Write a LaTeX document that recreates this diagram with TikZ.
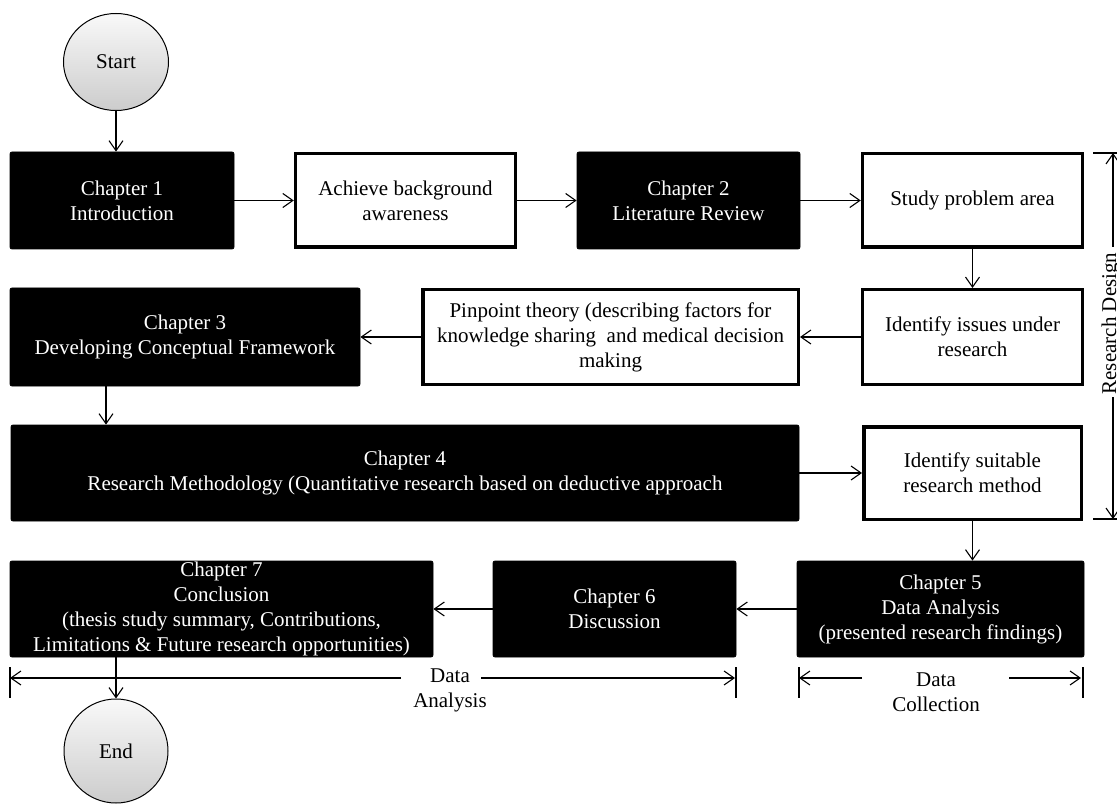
\documentclass[tikz,border=0pt]{standalone}
\usepackage{fontspec}
\setmainfont{Liberation Serif}
\usetikzlibrary{arrows.meta,shapes.geometric}
\begin{document}
\begin{tikzpicture}[x=1pt,y=-1pt,
  every node/.style={font=\fontsize{21}{25}\selectfont, align=center, inner sep=0pt},
  chapbox/.style={fill=black, draw=black, rounded corners=2pt, text=white, line width=0.8pt},
  taskbox/.style={fill=white, draw=black, line width=3.5pt},
  flow/.style={line width=1.1pt, -{Straight Barb[length=10pt,width=14pt,line width=1.1pt]}},
  span/.style={line width=1.1pt},
  startend/.style={ellipse, draw=black, line width=1pt, top color=gray!5, bottom color=gray!40, text=black}
]
\useasboundingbox (0,0) rectangle (1117,805);

% terminals
\node[startend, minimum width=105pt, minimum height=97pt] (start) at (116,62) {Start};
\node[startend, minimum width=104pt, minimum height=104pt] (end) at (116,751) {End};

% row 1
\node[chapbox, minimum width=224pt, minimum height=97pt] (c1) at (122,200.5) {Chapter 1\\Introduction};
\node[taskbox, minimum width=220pt, minimum height=93.5pt] (bg) at (405.5,200.5) {Achieve background\\awareness};
\node[chapbox, minimum width=223pt, minimum height=97pt] (c2) at (688.5,200.5) {Chapter 2\\Literature Review};
\node[taskbox, minimum width=220pt, minimum height=93.5pt] (prob) at (972.5,200.5) {Study problem area};

% row 2
\node[chapbox, minimum width=350pt, minimum height=98pt] (c3) at (185,337) {Chapter 3\\Developing Conceptual Framework};
\node[taskbox, minimum width=375.5pt, minimum height=94.5pt] (theory) at (610.5,337) {Pinpoint theory (describing factors for\\knowledge sharing\ \ and medical decision\\making};
\node[taskbox, minimum width=220pt, minimum height=94.5pt] (issues) at (972.5,337) {Identify issues under\\research};

% row 3
\node[chapbox, minimum width=788pt, minimum height=96pt] (c4) at (405,473) {Chapter 4\\Research Methodology (Quantitative research based on deductive approach};
\node[taskbox, minimum width=217.5pt, minimum height=92.5pt] (method) at (972.5,473) {Identify suitable\\research method};

% row 4
\node[chapbox, minimum width=423pt, minimum height=96pt] (c7) at (221.5,609) {Chapter 7\\Conclusion\\(thesis study summary, Contributions,\\Limitations \& Future research opportunities)};
\node[chapbox, minimum width=243pt, minimum height=96pt] (c6) at (614.5,609) {Chapter 6\\Discussion};
\node[chapbox, minimum width=287pt, minimum height=96pt] (c5) at (940.5,609) {Chapter 5\\Data Analysis\\(presented research findings)};

% flow
\draw[flow] (start) -- (start |- c1.north);
\draw[flow] (c1) -- (bg);
\draw[flow] (bg) -- (c2);
\draw[flow] (c2) -- (prob);
\draw[flow] (prob) -- (issues);
\draw[flow] (issues) -- (theory);
\draw[flow] (theory) -- (c3);
\draw[flow] ([xshift=-79pt]c3.south) coordinate (d3) -- (d3 |- c4.north);
\draw[flow] (c4) -- (method);
\draw[flow] (method.south) -- (method.south |- c5.north);
\draw[flow] (c5) -- (c6);
\draw[flow] (c6) -- (c7);
\draw[flow] (c7.south -| end) -- (end);

% research design span
\node[rotate=90, anchor=base] (rd) at (1116,323.5) {Research Design};
\coordinate (rdTop) at (1113,153);
\coordinate (rdBot) at (1113,519);
\coordinate (rdA) at (1113,247);
\coordinate (rdB) at (1113,397);
\draw[span] (1093,153) -- (1117,153);
\draw[span] (1093,519) -- (1117,519);
\draw[flow] (rdA) -- (rdTop);
\draw[flow] (rdB) -- (rdBot);

% data analysis span
\node (da) at (450,690.5) {Data\\Analysis};
\coordinate (daL) at (10,678);
\coordinate (daR) at (735,678);
\draw[span] (10,667) -- (10,698);
\draw[span] (736,667) -- (736,698);
\draw[flow] (401,678) -- (daL);
\draw[flow] (481,678) -- (daR);

% data collection span
\node (dc) at (936,692) {Data\\Collection};
\coordinate (dcL) at (799,678);
\coordinate (dcR) at (1081,678);
\draw[span] (799,667) -- (799,698);
\draw[span] (1083,667) -- (1083,698);
\draw[flow] (862,678) -- (dcL);
\draw[flow] (1009,678) -- (dcR);
\end{tikzpicture}
\end{document}
